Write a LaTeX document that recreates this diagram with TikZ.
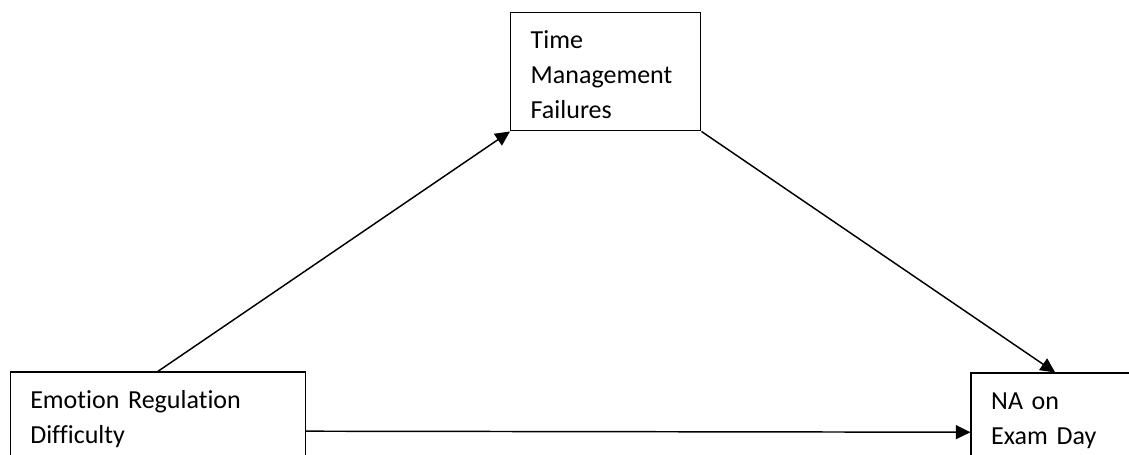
\documentclass[tikz,border=0pt]{standalone}
\usepackage{fontspec}
\setmainfont{Carlito}[Ligatures=NoCommon]
\usetikzlibrary{arrows.meta,positioning}
\begin{document}
\begin{tikzpicture}[x=0.75pt, y=-0.75pt, auto,
	varbox/.style = {draw, line width=1.1pt, align=left, inner xsep=15pt, inner ysep=0pt,
		text height=27pt, text depth=61.5pt, font=\fontsize{19.5}{26.25}\selectfont},
	every edge/.style = {draw, line width=1.1pt, -{Triangle[length=11pt,width=10.5pt]}}]

	\useasboundingbox (0,0) rectangle (1129,454);

	\node (tmf) [varbox, text width=112.5pt, anchor=north west] at (510,12) {Time\\Management\\Failures};
	\node (erd) [varbox, text width=191.25pt, below left=180pt and 153pt of tmf] {Emotion Regulation\\Difficulty};
	\node (na) [varbox, text width=96pt, below right=180.75pt and 201.75pt of tmf] {NA on\\Exam Day};

	\path (erd.north) edge (tmf.south west);
	\path (tmf.south east) edge (na.north);
	\path (erd.east) edge (na.west);

\end{tikzpicture}
\end{document}
